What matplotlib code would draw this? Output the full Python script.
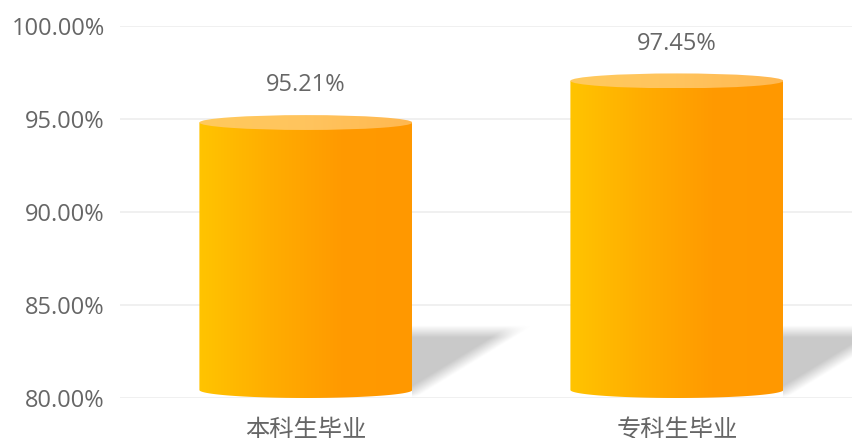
import numpy as np
import matplotlib
matplotlib.use("Agg")
import matplotlib.pyplot as plt
from matplotlib.patches import Ellipse, Polygon
from matplotlib.colors import LinearSegmentedColormap

plt.rcParams['font.family'] = ['Noto Sans CJK SC', 'DejaVu Sans']
NUM_FONT = ['Open Sans', 'Noto Sans CJK SC']

categories = ["本科生毕业", "专科生毕业"]
values = [95.21, 97.45]
y_ticks = [80, 85, 90, 95, 100]

Y_MIN, Y_MAX = 80, 100
BAR_W = 0.574
RY_TOP = 0.40
RY_BOT = 0.43

body_cmap = LinearSegmentedColormap.from_list("body", ["#ffc400", "#ffad00", "#ff9a00", "#ff9800"])
top_cmap = LinearSegmentedColormap.from_list("top", ["#ffca5c", "#ffc45e", "#ffb850"])

fig = plt.figure(figsize=(8.52, 4.38), dpi=100)
ax = fig.add_axes([120 / 852, 1 - 398 / 438, 732 / 852, 372 / 438])
ax.set_xlim(-0.501, 1.472)
ax.set_ylim(Y_MIN, Y_MAX)

for y in y_ticks:
    ax.axhline(y, color="#eeeeee", lw=1.2, zorder=0)

# px per data unit (for the soft shadow)
PX_X = 732 / (1.472 + 0.501)
PX_Y = 372 / (Y_MAX - Y_MIN)


def smooth(d, w=5.0):
    return np.clip(0.5 + d / (2 * w), 0, 1)


grad = np.linspace(0, 1, 256).reshape(1, -1)

for i, v in enumerate(values):
    x0, x1 = i - BAR_W / 2, i + BAR_W / 2
    top_c = v - RY_TOP
    bot_c = Y_MIN + RY_BOT

    # soft shadow to the lower right
    sx = np.linspace(0, 0.32, 240)
    sy = np.linspace(Y_MIN, 84.2, 120)
    gx, gy = np.meshgrid(sx * PX_X, (sy - Y_MIN) * PX_Y)
    top_px, far_px, low_px = 66.0, 100.0, 5.0
    d_top = top_px - gy
    # diagonal from (0, low_px) to (far_px, top_px); inside is above/left of it
    nx, ny = -(top_px - low_px), far_px
    nrm = np.hypot(nx, ny)
    d_diag = (nx * gx + ny * (gy - low_px)) / nrm
    d_bot = gy - 2.0
    alpha = 0.75 * smooth(d_top, 6) * smooth(d_diag, 6) * smooth(d_bot, 2)
    rgba = np.zeros(gx.shape + (4,))
    rgba[..., :3] = 0.72
    rgba[..., 3] = alpha
    ax.imshow(rgba, extent=[x1, x1 + 0.32, Y_MIN, 84.2], origin="lower", aspect="auto",
              interpolation="bilinear", zorder=1)

    # cylinder body
    t = np.linspace(np.pi, 2 * np.pi, 60)
    arc = [(i + BAR_W / 2 * np.cos(a), bot_c + RY_BOT * np.sin(a)) for a in t]
    verts = [(x0, top_c)] + arc + [(x1, top_c), (x0, top_c)]
    body = Polygon(verts, closed=True, transform=ax.transData)
    im = ax.imshow(grad, cmap=body_cmap, extent=[x0, x1, Y_MIN, top_c], aspect="auto",
                   interpolation="bicubic", zorder=2)
    im.set_clip_path(body)

    # top ellipse
    ell = Ellipse((i, top_c), BAR_W, 2 * RY_TOP, transform=ax.transData)
    im = ax.imshow(grad, cmap=top_cmap, extent=[x0, x1, top_c - RY_TOP, v], aspect="auto",
                   interpolation="bicubic", zorder=3)
    im.set_clip_path(ell)

    ax.annotate(f"{v:.2f}%", (i, v), xytext=(0, 21.5), textcoords="offset points",
                ha="center", va="center", fontsize=17, color="#666666", family=NUM_FONT)

ax.set_xticks(range(len(categories)))
ax.set_xticklabels(categories, fontsize=17.5, color="#666666")
ax.set_yticks(y_ticks)
ax.set_yticklabels([f"{y:.2f}%" for y in y_ticks], fontsize=17, color="#666666", family=NUM_FONT)
ax.tick_params(length=0)
ax.tick_params(axis="x", pad=14)
ax.tick_params(axis="y", pad=11)
for s in ax.spines.values():
    s.set_visible(False)

fig.savefig("out.png", dpi=100)
